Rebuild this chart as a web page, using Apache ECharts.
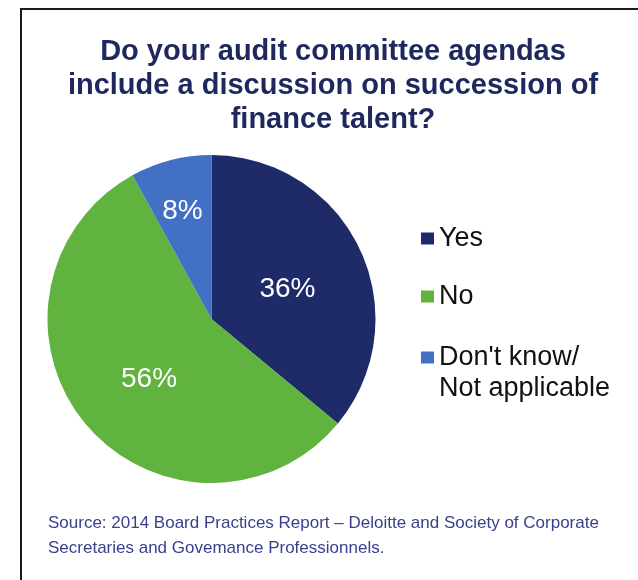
<!DOCTYPE html>
<html>
<head>
<meta charset="utf-8">
<style>
  html, body { margin: 0; padding: 0; background: #ffffff; }
  #chart { width: 638px; height: 580px; }
</style>
<script src="https://cdn.jsdelivr.net/npm/echarts@6/dist/echarts.min.js"></script>
</head>
<body>
<div id="chart"></div>
<script>
// Survey answers (percent of respondents)
const categories = ['Yes', 'No', "Don't know/\nNot applicable"];
const values = [36, 56, 8];
const colors = ['#1f2a68', '#5fb33e', '#4170c4'];

const titleLines = [
  'Do your audit committee agendas',
  'include a discussion on succession of',
  'finance talent?'
];
const sourceLines = [
  'Source: 2014 Board Practices Report \u2013 Deloitte and Society of Corporate',
  'Secretaries and Govemance Professionnels.'
];

const FONT = '"Liberation Sans", Arial, sans-serif';

const chart = echarts.init(document.getElementById('chart'), null, { renderer: 'canvas' });

const pieData = categories.map((name, i) => ({
  name: name,
  value: values[i],
  itemStyle: { color: colors[i] }
}));

const legendText = {
  fontFamily: FONT,
  fontSize: 27,
  color: '#111111',
  lineHeight: 31
};

chart.setOption({
  backgroundColor: '#ffffff',
  animation: false,
  title: {
    text: titleLines.join('\n'),
    left: 328,
    top: 30,
    textAlign: 'center',
    textStyle: {
      fontFamily: FONT,
      fontSize: 29,
      fontWeight: 'bold',
      color: '#1f285c',
      lineHeight: 34
    }
  },
  legend: [
    {
      data: categories.slice(0, 2),
      orient: 'vertical',
      left: 421,
      top: 223,
      padding: 0,
      itemWidth: 13,
      itemHeight: 12,
      itemGap: 27,
      icon: 'rect',
      selectedMode: false,
      textStyle: legendText
    },
    {
      // two-line entry: the marker sits beside the first line
      data: [categories[2]],
      formatter: function (name) { return '\n' + name; },
      orient: 'vertical',
      left: 421,
      top: 311,
      padding: 0,
      itemWidth: 13,
      itemHeight: 12,
      icon: 'rect',
      selectedMode: false,
      textStyle: legendText
    }
  ],
  series: [{
    type: 'pie',
    center: [211.5, 319],
    radius: 164,
    startAngle: 90,
    clockwise: true,
    silent: true,
    itemStyle: { borderWidth: 0 },
    label: {
      show: true,
      position: 'inside',
      formatter: '{c}%',
      fontFamily: FONT,
      fontSize: 28,
      color: '#ffffff'
    },
    labelLine: { show: false },
    // the narrow slice carries its label further out toward the rim
    labelLayout: function (params) {
      return params.dataIndex === 2 ? { dx: -8, dy: -25 } : { dx: params.dataIndex === 1 ? 3 : -1, dy: 6 };
    },
    data: pieData
  }],
  graphic: [
    {
      type: 'polyline',
      shape: { points: [[21, 580], [21, 9], [638, 9]] },
      style: { stroke: '#1a1a1a', lineWidth: 2, fill: null }
    },
    {
      type: 'text',
      left: 48,
      top: 511,
      style: {
        text: sourceLines.join('\n'),
        font: '17px ' + FONT,
        fill: '#3a3f8c',
        lineHeight: 25
      }
    }
  ]
});
</script>
</body>
</html>
